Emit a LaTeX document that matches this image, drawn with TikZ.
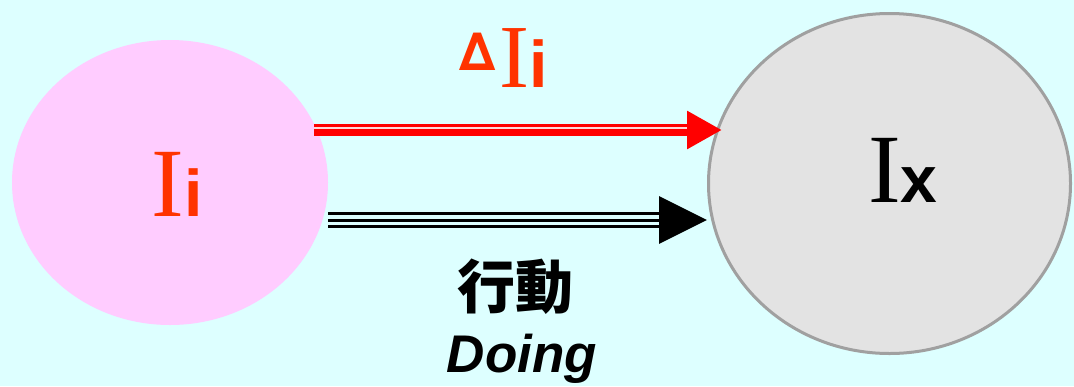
\documentclass[tikz,border=0pt]{standalone}
\usepackage{fontspec}
\setmainfont{Liberation Serif}
\newfontfamily\arialf{Liberation Sans}
\newfontfamily\dejaf{DejaVu Sans}
\newfontfamily\cjkf{Noto Sans CJK TC}
\usetikzlibrary{shapes.geometric,arrows.meta,calc}
\definecolor{bgc}{HTML}{DDFFFF}
\definecolor{pinkf}{HTML}{FFCCFF}
\definecolor{grayf}{HTML}{E3E3E3}
\definecolor{grayd}{HTML}{A0A0A0}
\definecolor{txtred}{HTML}{FF3300}
\definecolor{gapc}{HTML}{FFD8D8}
\tikzset{
  blob/.style={ellipse, inner sep=0pt},
  lbl/.style={anchor=base, inner sep=0pt},
  blackline/.style={line width=1.5pt, black},
  redline/.style={line width=6pt, red},
}
\begin{document}
\begin{tikzpicture}[x=0.5pt,y=-0.5pt]
\fill[bgc] (0,0) rectangle (1074,386);
\useasboundingbox (0,0) rectangle (1074,386);
\node[blob, fill=pinkf, minimum width=158pt, minimum height=142.5pt] (a) at (170,182.5) {};
\node[blob, fill=grayf, draw=grayd, line width=1.5pt, minimum width=181pt, minimum height=170pt] (b) at (889.5,183.5) {};
% labels
\node[lbl, text=txtred] (la) at (177,216) {\fontsize{49}{49}\selectfont I\arialf\bfseries\fontsize{33}{33}\selectfont i};
\node[lbl, text=black] (lb) at (903,202) {\fontsize{49}{49}\selectfont I\arialf\bfseries\fontsize{33}{33}\selectfont x};
\node[lbl, text=txtred] (ld) at (504,87) {\raisebox{8.5pt}{\dejaf\bfseries\fontsize{26}{26}\selectfont ∆}\hspace{2pt}\fontsize{45}{45}\selectfont I\arialf\bfseries\fontsize{33}{33}\selectfont i};
\node[inner sep=0pt] (c1) at (515,287) {\cjkf\bfseries\fontsize{29}{29}\selectfont 行動};
\node[lbl] (dg) at (522,372) {\arialf\bfseries\itshape\fontsize{26.5}{27}\selectfont Doing};
% red arrow
\draw[redline, -{Triangle[length=17.5pt,width=18pt]}] ($(a.east)+(-14,-52.5)$) -- ($(b.west)+(15,-53.5)$);
\draw[gapc, line width=1pt] ($(a.east)+(-14,-55)$) -- ($(b.west)+(-20,-56)$);
% black arrow
\draw[blackline, -{Triangle[length=24pt,width=23.5pt]}] ($(a.east)+(0,37.5)$) -- ($(b.west)+(0,36.5)$);
\draw[blackline] ($(a.east)+(0,31)$) -- ($(b.west)+(-47,30)$);
\draw[blackline] ($(a.east)+(0,44)$) -- ($(b.west)+(-47,43)$);
\end{tikzpicture}
\end{document}
